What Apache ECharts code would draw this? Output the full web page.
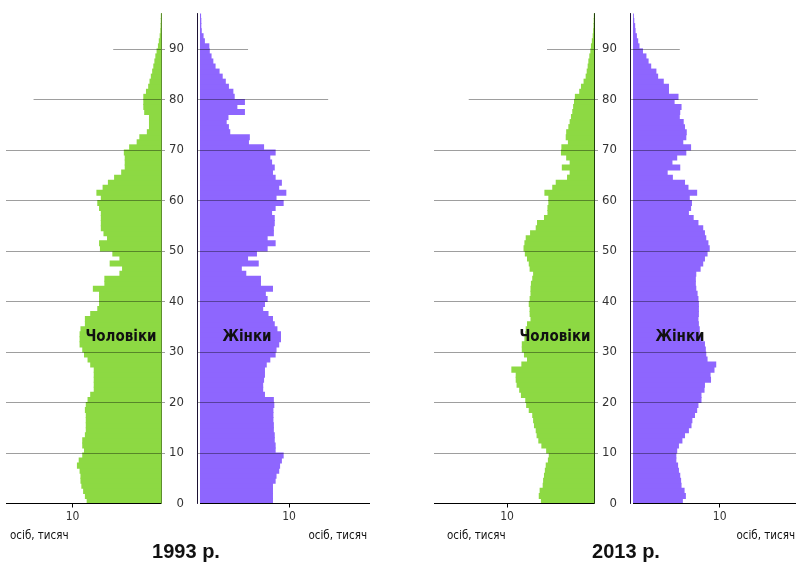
<!DOCTYPE html>
<html>
<head>
<meta charset="utf-8">
<title>Статево-вікова піраміда</title>
<script src="https://cdn.jsdelivr.net/npm/echarts@6/dist/echarts.min.js"></script>
<style>
  html, body { margin: 0; padding: 0; background: #fff; }
  #chart { width: 796px; height: 564px; }
</style>
</head>
<body>
<div id="chart"></div>
<script>
// вік 0..96
const ages = Array.from({ length: 97 }, (_, i) => i);
const ageTicks = [0, 10, 20, 30, 40, 50, 60, 70, 80, 90];
const xTicks = [10];

// осіб, тисяч — за віком 0..96
const male1993 = [
  8.4, 8.6, 8.8, 9.0, 9.1, 9.1, 9.2, 9.5, 9.3, 8.9,
  8.7, 8.9, 8.9, 8.6, 8.5, 8.5, 8.5, 8.5, 8.6, 8.5,
  8.3, 8.0, 7.6, 7.6, 7.6, 7.6, 7.6, 8.0, 8.3, 8.7,
  8.9, 9.2, 9.2, 9.2, 9.1, 8.6, 8.6, 8.0, 7.2, 7.0,
  7.0, 7.0, 7.7, 6.4, 6.4, 4.7, 4.4, 5.8, 4.7, 5.5,
  6.9, 7.0, 6.1, 6.5, 6.8, 6.8, 6.8, 6.8, 7.0, 7.2,
  6.8, 7.3, 6.6, 6.0, 5.3, 4.5, 4.1, 4.1, 4.1, 4.2,
  3.6, 2.75, 2.45, 1.6, 1.36, 1.36, 1.36, 1.9, 2.0, 2.0,
  2.0, 1.7, 1.45, 1.3, 1.15, 1.0, 0.87, 0.75, 0.64, 0.5,
  0.35, 0.25, 0.15, 0.08, 0.05, 0.03, 0.02
];
const female1993 = [
  8.2, 8.2, 8.2, 8.2, 8.5, 8.6, 8.9, 9.0, 9.2, 9.4,
  8.5, 8.5, 8.4, 8.4, 8.3, 8.3, 8.25, 8.25, 8.25, 8.35,
  8.3, 7.3, 7.1, 7.1, 7.2, 7.3, 7.3, 7.5, 7.9, 8.5,
  8.6, 8.9, 9.1, 9.1, 8.7, 8.4, 8.2, 7.7, 7.1, 7.3,
  7.6, 7.4, 8.2, 6.85, 6.85, 5.2, 4.7, 6.6, 5.4, 6.4,
  7.6, 8.5, 7.6, 8.3, 8.3, 8.4, 8.4, 8.1, 8.5, 9.4,
  8.6, 9.7, 8.9, 9.2, 8.5, 8.2, 8.4, 8.1, 7.9, 8.5,
  7.2, 5.5, 5.6, 3.4, 3.25, 3.0, 3.2, 5.05, 4.2, 5.05,
  3.9, 3.75, 3.25, 2.9, 2.55, 2.2, 1.75, 1.5, 1.3, 1.1,
  1.05, 0.55, 0.4, 0.2, 0.15, 0.15, 0.12
];
const male2013 = [
  6.1, 6.35, 6.25, 5.9, 5.85, 5.75, 5.65, 5.55, 5.3, 5.2,
  5.5, 6.05, 6.4, 6.6, 6.7, 6.9, 7.0, 7.1, 7.5, 7.8,
  7.9, 8.4, 8.6, 8.9, 9.0, 9.0, 9.5, 8.35, 7.7, 8.05,
  8.3, 8.3, 8.0, 7.9, 7.85, 7.7, 7.3, 7.4, 7.4, 7.5,
  7.4, 7.3, 7.3, 7.25, 7.1, 7.0, 7.4, 7.5, 7.7, 7.95,
  8.1, 8.0, 7.85, 7.35, 6.7, 6.55, 5.75, 5.35, 5.35, 5.25,
  5.25, 5.7, 4.8, 4.4, 3.1, 2.8, 3.7, 2.8, 3.2, 3.8,
  3.75, 3.0, 3.25, 3.2, 2.95, 2.8, 2.65, 2.5, 2.4, 2.3,
  2.2, 1.7, 1.5, 1.2, 0.96, 0.84, 0.73, 0.65, 0.54, 0.42,
  0.35, 0.25, 0.15, 0.1, 0.06, 0.04, 0.02
];
const female2013 = [
  5.75, 6.1, 5.95, 5.6, 5.55, 5.45, 5.3, 5.2, 5.0, 5.0,
  5.1, 5.3, 5.7, 6.0, 6.45, 6.75, 6.85, 7.15, 7.4, 7.55,
  7.9, 7.9, 8.25, 8.3, 9.0, 8.95, 9.4, 9.6, 8.6, 8.45,
  8.4, 8.3, 7.9, 7.7, 7.7, 7.6, 7.55, 7.6, 7.6, 7.6,
  7.55, 7.45, 7.3, 7.25, 7.25, 7.3, 7.8, 8.1, 8.3, 8.6,
  8.85, 8.7, 8.45, 8.3, 8.1, 7.55, 7.0, 6.45, 6.7, 6.8,
  6.55, 7.4, 6.4, 6.0, 4.6, 4.0, 5.45, 4.55, 5.1, 6.15,
  6.7, 5.8, 6.15, 6.2, 6.0, 5.85, 5.4, 5.45, 5.6, 4.8,
  5.25, 4.15, 4.15, 3.55, 2.9, 2.7, 2.1, 1.8, 1.55, 1.15,
  0.75, 0.6, 0.45, 0.3, 0.25, 0.15, 0.1
];

// короткі лінії вгорі піраміди (тис. від осі)
const lineLen = { 80: 14.4, 90: 5.4 };

const GREEN = '#8dd943';
const PURPLE = '#8e66fe';
const GRID_LINE = 'rgba(0,0,0,0.38)';
const NARROW = "'Liberation Sans Narrow', 'DejaVu Sans Condensed', 'Liberation Sans', sans-serif";
const TOP = 13.5, HEIGHT = 490;
// ширина стовпця з невеликим перекриттям, щоб не було швів
const BAR_W = HEIGHT / ages.length + 1;

const panels = [
  { title: '1993 р.', male: male1993, female: female1993,
    mLeft: 6, mZero: 161, fZero: 200, fRight: 370, mScale: 8.85, fScale: 8.9,
    mText: 121, fText: 247, unitL: 10, unitR: 367, titleX: 186, axisM: '#5d8f2e' },
  { title: '2013 р.', male: male2013, female: female2013,
    mLeft: 434, mZero: 594, fZero: 633, fRight: 796, mScale: 8.7, fScale: 8.67,
    mText: 555, fText: 680, unitL: 447, unitR: 795, titleX: 626, axisM: '#22400c' }
];

const grid = [], xAxis = [], yAxis = [], series = [], graphic = [];

panels.forEach((p, i) => {
  const mMax = (p.mZero - p.mLeft) / p.mScale;
  const mMin = -4 / p.mScale;
  const fMin = -3 / p.fScale;
  const fMax = (p.fRight - p.fZero) / p.fScale;
  const gm = 2 * i, gf = 2 * i + 1;

  grid.push({ left: p.mLeft, top: TOP, width: p.mZero + 4 - p.mLeft, height: HEIGHT });
  grid.push({ left: p.fZero - 3, top: TOP, width: p.fRight - p.fZero + 3, height: HEIGHT });

  const xCommon = {
    type: 'value', splitLine: { show: false }, axisLine: { show: false },
    axisTick: { show: true, customValues: xTicks, length: 4, lineStyle: { color: '#000' } },
    axisLabel: { customValues: xTicks, color: '#333', fontSize: 12, margin: 7, fontFamily: NARROW }
  };
  xAxis.push(Object.assign({ gridIndex: gm, inverse: true, min: mMin, max: mMax }, xCommon));
  xAxis.push(Object.assign({ gridIndex: gf, min: fMin, max: fMax }, xCommon));

  // чоловіки: категорії (стовпці) + значення (лінії)
  yAxis.push({ type: 'category', gridIndex: gm, data: ages, position: 'right', z: 10,
    axisLine: { onZero: true, lineStyle: { color: p.axisM } },
    axisTick: { show: false }, axisLabel: { show: false } });
  yAxis.push({ type: 'value', gridIndex: gm, min: 0, max: 97, show: false, position: 'left' });
  // жінки
  yAxis.push({ type: 'category', gridIndex: gf, data: ages, show: false, position: 'right' });
  yAxis.push({ type: 'value', gridIndex: gf, min: 0, max: 97, interval: 10, position: 'left', z: 10,
    axisLine: { show: true, onZero: true, lineStyle: { color: '#1c1233' } },
    axisTick: { show: false }, splitLine: { show: false },
    axisLabel: { formatter: v => (ageTicks.includes(v) ? String(v) : ''),
      color: '#333', fontSize: 13, margin: 13, fontFamily: NARROW } });

  series.push({ type: 'bar', xAxisIndex: gm, yAxisIndex: 4 * i, data: p.male,
    barWidth: BAR_W, itemStyle: { color: GREEN }, silent: true });
  series.push({ type: 'bar', xAxisIndex: gf, yAxisIndex: 4 * i + 2, data: p.female,
    barWidth: BAR_W, itemStyle: { color: PURPLE }, silent: true });

  const ls = { color: GRID_LINE, width: 1, type: 'solid' };
  const base = { color: '#000', width: 1, type: 'solid' };
  const mLines = ageTicks.filter(a => a > 0).map(a =>
    [{ coord: [lineLen[a] || mMax, a], lineStyle: ls }, { coord: [mMin, a] }]);
  mLines.push([{ coord: [mMax, 0], lineStyle: base }, { coord: [0, 0] }]);
  const fLines = ageTicks.filter(a => a > 0).map(a =>
    [{ coord: [fMin, a], lineStyle: ls }, { coord: [lineLen[a] || fMax, a] }]);
  fLines.push([{ coord: [0, 0], lineStyle: base }, { coord: [fMax, 0] }]);

  const mark = data => ({ silent: true, symbol: 'none', label: { show: false },
    animation: false, emphasis: { disabled: true }, data: data });
  series.push({ type: 'line', xAxisIndex: gm, yAxisIndex: 4 * i + 1, data: [], markLine: mark(mLines) });
  series.push({ type: 'line', xAxisIndex: gf, yAxisIndex: 4 * i + 3, data: [], markLine: mark(fLines) });

  const txt = (text, x, y, font, align) => ({ type: 'text', x: x, y: y, z: 100, silent: true,
    style: { text: text, font: font, fill: '#111', align: align || 'center', verticalAlign: 'middle' } });
  graphic.push(txt('Чоловіки', p.mText, 337, 'bold 15px ' + NARROW));
  graphic.push(txt('Жінки', p.fText, 337, 'bold 15px ' + NARROW));
  graphic.push(txt('осіб, тисяч', p.unitL, 536, '11.5px ' + NARROW, 'left'));
  graphic.push(txt('осіб, тисяч', p.unitR, 536, '11.5px ' + NARROW, 'right'));
  graphic.push(txt(p.title, p.titleX, 552, "bold 20px 'Liberation Sans', Arial, sans-serif"));
});

const chart = echarts.init(document.getElementById('chart'), null, { renderer: 'canvas' });
chart.setOption({
  animation: false,
  backgroundColor: '#fff',
  grid: grid,
  xAxis: xAxis,
  yAxis: yAxis,
  series: series,
  graphic: { elements: graphic }
});
</script>
</body>
</html>
